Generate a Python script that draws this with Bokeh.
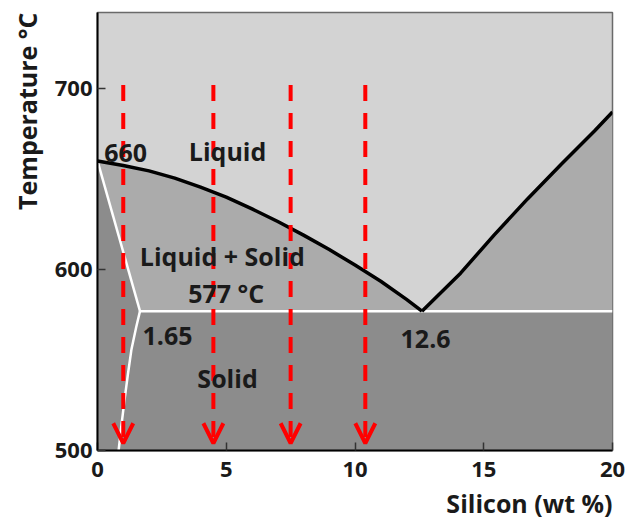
from bokeh.plotting import figure
from bokeh.models import Label, Arrow, OpenHead, Range1d, FixedTicker, Title
from bokeh.embed import file_html
from bokeh.resources import INLINE

# Liquidus (left branch, Al side) wt% Si vs temperature
liq_left_x = [0, 1, 2, 3, 4, 5, 6, 7, 8, 9, 10, 11, 12, 12.6]
liq_left_y = [660, 657.5, 654.5, 650.5, 645.5, 640, 633.5, 626.5, 619, 611, 602.5, 593.5, 583.5, 577]
# Liquidus (right branch, Si side)
liq_right_x = [12.6, 14.1, 15.4, 16.7, 18.0, 19.3, 20]
liq_right_y = [577, 598, 619, 639, 658, 676.5, 687]
# Solidus and solvus
solidus_x = [0, 1.65]
solidus_y = [660, 577]
solvus_x = [1.65, 1.5, 1.32, 1.18, 1.05, 0.93, 0.82]
solvus_y = [577, 568, 556, 542, 528, 514, 500]
eutectic_x = [1.65, 20]
eutectic_y = [577, 577]
# Cooling paths (red arrows)
arrow_x = [1.0, 4.5, 7.5, 10.4]
arrow_top = 702
arrow_bottom = 504
# Tick values
x_ticks = [0, 5, 10, 15, 20]
y_ticks = [500, 600, 700]

FONT = "Open Sans"
TXT = "#1a1a1a"

p = figure(width=628, height=524, output_backend="svg", toolbar_location=None,
           x_range=Range1d(0, 20), y_range=Range1d(500, 742),
           min_border_left=97, min_border_right=16, min_border_top=12, min_border_bottom=72)
p.background_fill_color = "#d3d3d3"
p.border_fill_color = "white"
p.outline_line_color = "#6a6a6a"
p.outline_line_width = 1.5
p.grid.visible = False

# Regions
ls_x = liq_left_x + liq_right_x[1:] + [20, 1.65]
ls_y = liq_left_y + liq_right_y[1:] + [577, 577]
p.patch(ls_x, ls_y, fill_color="#ababab", line_color=None)
solid_x = [0, 1.65, 20, 20, 0]
solid_y = [660, 577, 577, 500, 500]
p.patch(solid_x, solid_y, fill_color="#8c8c8c", line_color=None)

# Boundaries
p.line(solidus_x, solidus_y, line_color="white", line_width=2.5)
p.line(solvus_x, solvus_y, line_color="white", line_width=2.5)
p.line(eutectic_x, eutectic_y, line_color="white", line_width=2.5)
p.line(liq_left_x, liq_left_y, line_color="black", line_width=3.5)
p.line(liq_right_x, liq_right_y, line_color="black", line_width=3.5)

# Arrows
for ax in arrow_x:
    p.add_layout(Arrow(end=OpenHead(line_color="#ff0000", line_width=4, size=20),
                       x_start=ax, y_start=arrow_top, x_end=ax, y_end=arrow_bottom,
                       line_color="#ff0000", line_width=4, line_dash="16 12"))

# Labels
labels = [
    ("660", 1.09, 664.5),
    ("Liquid", 5.05, 665.5),
    ("Liquid + Solid", 4.85, 607.5),
    ("577 °C", 5.0, 587),
    ("1.65", 2.72, 563.5),
    ("Solid", 5.05, 540),
    ("12.6", 12.74, 561.5),
]
for t, lx, ly in labels:
    p.add_layout(Label(x=lx, y=ly, text=t, text_font=FONT, text_font_size="25px",
                       text_font_style="bold",
                       text_color=TXT, text_align="center", text_baseline="middle"))

# Axes
for ax in (p.xaxis[0], p.yaxis[0]):
    ax.axis_line_color = "black"
    ax.axis_line_width = 2
    ax.major_tick_in = 8
    ax.major_tick_out = 0
    ax.major_tick_line_color = "#333333"
    ax.major_tick_line_width = 1.5
    ax.minor_tick_line_color = None
    ax.major_label_text_font = FONT
    ax.major_label_text_font_size = "22px"
    ax.major_label_text_font_style = "bold"
    ax.major_label_text_color = TXT
p.xaxis.ticker = FixedTicker(ticks=x_ticks)
p.yaxis.ticker = FixedTicker(ticks=y_ticks)
p.xaxis.major_label_standoff = 11
p.yaxis.major_label_standoff = 5

ylab = Title(text="Temperature °C", align="right", text_font=FONT, text_font_size="25px",
             text_font_style="bold", text_color=TXT, standoff=15)
xlab = Title(text="Silicon (wt %)", align="right", text_font=FONT, text_font_size="25px",
             text_font_style="bold", text_color=TXT, standoff=9)
p.add_layout(ylab, "left")
p.add_layout(xlab, "below")

open("out.html", "w").write(file_html(p, INLINE))
